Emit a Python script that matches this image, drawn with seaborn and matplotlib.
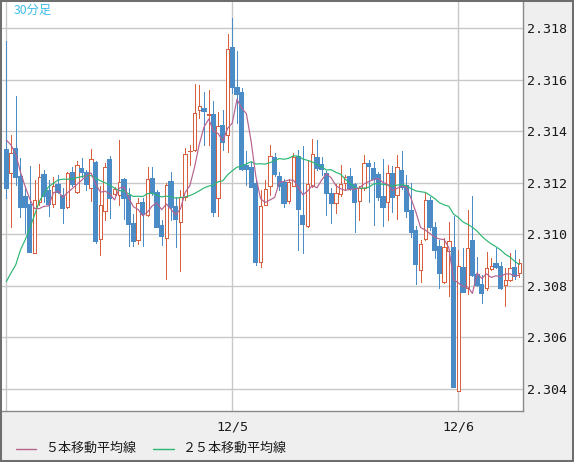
import numpy as np
import pandas as pd
import matplotlib
matplotlib.use("Agg")
import matplotlib.pyplot as plt
import seaborn as sns
from matplotlib.patches import Rectangle
from matplotlib.lines import Line2D

# ---------------- data (30-minute candles, 12/4 00:00 onwards) ----------------
opens = [2.31327, 2.31238, 2.31331, 2.31223, 2.31143, 2.31114, 2.30929, 2.31127, 2.31230, 2.31168,
         2.31118, 2.31191, 2.31149, 2.31107, 2.31238, 2.31165, 2.31252, 2.31238, 2.31179, 2.31278,
         2.30982, 2.31092, 2.31289, 2.31157, 2.31153, 2.31209, 2.31147, 2.31042, 2.30978, 2.31123,
         2.31075, 2.31214, 2.31162, 2.31032, 2.30984, 2.31204, 2.31107, 2.31046, 2.31145, 2.31322,
         2.31327, 2.31483, 2.31487, 2.31465, 2.31463, 2.31140, 2.31419, 2.31386, 2.31722, 2.31567,
         2.31548, 2.31265, 2.31256, 2.31197, 2.30894, 2.31114, 2.31189, 2.31295, 2.31224, 2.31198,
         2.31131, 2.31189, 2.31301, 2.31071, 2.31032, 2.31188, 2.31295, 2.31269, 2.31233, 2.31157,
         2.31123, 2.31157, 2.31198, 2.31221, 2.31190, 2.31131, 2.31180, 2.31273, 2.31252, 2.31232,
         2.31145, 2.31127, 2.31233, 2.31153, 2.31246, 2.31188, 2.31092, 2.31014, 2.30861, 2.30981,
         2.31131, 2.31026, 2.30950, 2.30816, 2.30936, 2.30946, 2.30393, 2.30870, 2.30790, 2.30975,
         2.30842, 2.30803, 2.30790, 2.30864, 2.30883, 2.30874, 2.30803, 2.30822, 2.30870, 2.30849]
highs = [2.31751, 2.31386, 2.31537, 2.31296, 2.31188, 2.31265, 2.31211, 2.31273, 2.31250, 2.31211,
         2.31221, 2.31230, 2.31180, 2.31241, 2.31263, 2.31285, 2.31296, 2.31250, 2.31330, 2.31286,
         2.31186, 2.31277, 2.31304, 2.31184, 2.31366, 2.31219, 2.31180, 2.31079, 2.31141, 2.31140,
         2.31260, 2.31260, 2.31172, 2.31056, 2.31200, 2.31243, 2.31145, 2.31172, 2.31337, 2.31347,
         2.31584, 2.31580, 2.31553, 2.31560, 2.31518, 2.31474, 2.31483, 2.31778, 2.31840, 2.31712,
         2.31568, 2.31324, 2.31282, 2.31211, 2.31172, 2.31211, 2.31347, 2.31316, 2.31243, 2.31214,
         2.31214, 2.31314, 2.31327, 2.31343, 2.31289, 2.31370, 2.31368, 2.31300, 2.31246, 2.31179,
         2.31195, 2.31269, 2.31230, 2.31258, 2.31199, 2.31188, 2.31308, 2.31287, 2.31282, 2.31242,
         2.31291, 2.31269, 2.31265, 2.31308, 2.31324, 2.31230, 2.31198, 2.31032, 2.30978, 2.31159,
         2.31146, 2.31048, 2.30978, 2.30984, 2.31049, 2.31071, 2.30939, 2.30947, 2.31094, 2.31149,
         2.30911, 2.30842, 2.30932, 2.30907, 2.30946, 2.30892, 2.30868, 2.30929, 2.30939, 2.30903]
lows = [2.31141, 2.31028, 2.31191, 2.31067, 2.31006, 2.30931, 2.30927, 2.31114, 2.31125, 2.31071,
        2.31106, 2.31160, 2.31044, 2.31101, 2.31188, 2.31160, 2.31224, 2.31172, 2.31129, 2.30966,
        2.30918, 2.31056, 2.31062, 2.31153, 2.31114, 2.31059, 2.30955, 2.30955, 2.30962, 2.30955,
        2.31071, 2.31153, 2.31027, 2.30958, 2.30825, 2.31056, 2.30952, 2.30859, 2.31133, 2.31269,
        2.31325, 2.31451, 2.31345, 2.31345, 2.31071, 2.31071, 2.31327, 2.31321, 2.31550, 2.31433,
        2.31250, 2.31191, 2.31184, 2.30881, 2.30874, 2.31112, 2.31153, 2.31226, 2.31172, 2.31105,
        2.31122, 2.31188, 2.30939, 2.30926, 2.31027, 2.31184, 2.31250, 2.31230, 2.31075, 2.31045,
        2.31084, 2.31149, 2.31172, 2.31172, 2.31010, 2.31054, 2.31172, 2.31127, 2.31036, 2.31133,
        2.31034, 2.31054, 2.31088, 2.31058, 2.31176, 2.31068, 2.30991, 2.30807, 2.30815, 2.30978,
        2.31017, 2.30907, 2.30790, 2.30811, 2.30760, 2.30408, 2.30393, 2.30776, 2.30768, 2.30838,
        2.30799, 2.30734, 2.30784, 2.30861, 2.30869, 2.30788, 2.30723, 2.30819, 2.30826, 2.30835]
closes = [2.31180, 2.31316, 2.31223, 2.31106, 2.31107, 2.30932, 2.31133, 2.31221, 2.31150, 2.31116,
          2.31186, 2.31165, 2.31104, 2.31237, 2.31195, 2.31269, 2.31243, 2.31195, 2.31291, 2.30975,
          2.31114, 2.31263, 2.31142, 2.31175, 2.31203, 2.31140, 2.31042, 2.30975, 2.31123, 2.31079,
          2.31214, 2.31162, 2.31030, 2.30993, 2.31191, 2.31107, 2.31058, 2.31146, 2.31312, 2.31324,
          2.31470, 2.31500, 2.31477, 2.31467, 2.31088, 2.31422, 2.31360, 2.31719, 2.31573, 2.31545,
          2.31252, 2.31252, 2.31185, 2.30894, 2.31110, 2.31175, 2.31304, 2.31234, 2.31189, 2.31123,
          2.31204, 2.31301, 2.31098, 2.31042, 2.31195, 2.31312, 2.31256, 2.31252, 2.31159, 2.31120,
          2.31159, 2.31194, 2.31221, 2.31180, 2.31124, 2.31179, 2.31276, 2.31266, 2.31216, 2.31145,
          2.31105, 2.31240, 2.31144, 2.31260, 2.31183, 2.31092, 2.31010, 2.30885, 2.30962, 2.31133,
          2.31027, 2.30939, 2.30849, 2.30950, 2.30974, 2.30408, 2.30877, 2.30777, 2.30948, 2.30842,
          2.30803, 2.30773, 2.30868, 2.30877, 2.30874, 2.30790, 2.30822, 2.30868, 2.30838, 2.30890]
# moving-average values before a full window exists
ma5_head = [2.31366, 2.31347, 2.31312, 2.31242]
ma25_head = [2.30816, 2.30850, 2.30881, 2.30939, 2.30978, 2.31024, 2.31075, 2.31127,
             2.31159, 2.31185, 2.31198, 2.31211, 2.31214, 2.31214, 2.31215, 2.31220,
             2.31224, 2.31228, 2.31228, 2.31218, 2.31208, 2.31200, 2.31191, 2.31179]

date_tick_pos = [0, 48, 96]
date_tick_labels = ["", "12/5", "12/6"]
price_ticks = [2.304, 2.306, 2.308, 2.310, 2.312, 2.314, 2.316, 2.318]
legend_labels = ["５本移動平均線", "２５本移動平均線"]
timeframe_label = "30分足"

# ---------------- styling ----------------
RED = "#d8603e"
BLUE = "#4b8bc6"
PINK = "#b5628e"
GREEN = "#2bb673"
GRID = "#c8c8c8"
BG = "#efefef"
PX = 0.72  # one pixel in points at 100 dpi

sns.set_theme(style="white")
plt.rcParams['font.family'] = ['Noto Sans CJK JP', 'DejaVu Sans']

W, H = 574, 462
fig = plt.figure(figsize=(W / 100, H / 100), dpi=100, facecolor=BG)
ax = fig.add_axes([2 / W, 1 - 411 / H, 521 / W, 409.5 / H])
ax.set_facecolor("white")

df = pd.DataFrame({"idx": np.arange(len(closes)), "open": opens, "high": highs,
                   "low": lows, "close": closes})
ma5 = df["close"].rolling(5).mean()
ma5.iloc[:len(ma5_head)] = ma5_head
ma25 = df["close"].rolling(25).mean()
ma25.iloc[:len(ma25_head)] = ma25_head
df["ma5"] = ma5
df["ma25"] = ma25

up = df["close"] >= df["open"]
dn = ~up

ax.vlines(df.loc[up, "idx"], df.loc[up, "low"], df.loc[up, "high"], color=RED, lw=PX,
          zorder=2, antialiased=False)
ax.vlines(df.loc[dn, "idx"], df.loc[dn, "low"], df.loc[dn, "high"], color=BLUE, lw=PX,
          zorder=2, antialiased=False)
ax.bar(df.loc[up, "idx"], (df["close"] - df["open"])[up], bottom=df.loc[up, "open"], width=0.72,
       facecolor="white", edgecolor=RED, linewidth=PX, zorder=3, antialiased=False)
ax.bar(df.loc[dn, "idx"], (df["open"] - df["close"])[dn], bottom=df.loc[dn, "close"], width=0.68,
       facecolor=BLUE, edgecolor=BLUE, linewidth=0.2, zorder=3, antialiased=False)

sns.lineplot(data=df, x="idx", y="ma25", color=GREEN, lw=0.85, ax=ax, zorder=4)
sns.lineplot(data=df, x="idx", y="ma5", color=PINK, lw=0.85, ax=ax, zorder=5)

ax.set_xlim(-0.91, 109.75)
ax.set_ylim(2.30314, 2.31904)
ax.set_xlabel("")
ax.set_ylabel("")

ax.yaxis.tick_right()
ax.set_yticks(price_ticks)
ax.set_yticklabels([f"{v:.3f}" for v in price_ticks], family="DejaVu Sans Mono", fontsize=9.6, color="#1a1a1a")
ax.set_xticks(date_tick_pos)
ax.set_xticklabels(date_tick_labels, family="DejaVu Sans Mono", fontsize=9.6, color="#1a1a1a")
ax.tick_params(axis="both", length=0)
ax.tick_params(axis="y", pad=3)
ax.tick_params(axis="x", pad=7)
ax.grid(True, color=GRID, lw=1.0, zorder=0)
ax.set_axisbelow(True)
for s in ["top", "left"]:
    ax.spines[s].set_visible(False)
for s in ["right", "bottom"]:
    ax.spines[s].set_color("#8a8a8a")
    ax.spines[s].set_linewidth(1.0)

# timeframe label
fig.text(14 / W, 1 - 10 / H, timeframe_label, color="#3cbbe8", fontsize=8.8, va="center", ha="left")

# legend
leg_y = 1 - 448.5 / H
fig.add_artist(Line2D([16 / W, 36 / W], [leg_y, leg_y], color=PINK, lw=1.0, transform=fig.transFigure))
fig.text(45 / W, leg_y, legend_labels[0], fontsize=9.4, va="center", ha="left", color="#1a1a1a")
fig.add_artist(Line2D([153 / W, 174 / W], [leg_y, leg_y], color=GREEN, lw=1.0, transform=fig.transFigure))
fig.text(183 / W, leg_y, legend_labels[1], fontsize=9.4, va="center", ha="left", color="#1a1a1a")

# outer frame
fig.add_artist(Rectangle((0, 0), 1, 1, transform=fig.transFigure, fill=False,
                         edgecolor="#6e6e6e", lw=2.9, zorder=10))

fig.savefig("out.png", dpi=100, facecolor=BG)
